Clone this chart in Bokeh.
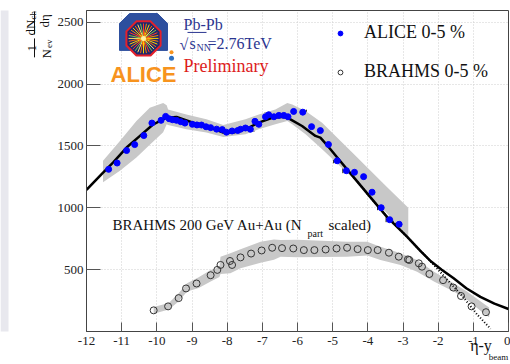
import numpy as np
from bokeh.plotting import figure
from bokeh.layouts import row
from bokeh.models import (ColumnDataSource, Label, Legend, LegendItem, Whisker,
                          TeeHead, Range1d, FixedTicker, LinearAxis)
from bokeh.embed import file_html
from bokeh.resources import INLINE

# ---------------- data ----------------
alice_eta = [-11.37, -11.13, -10.86, -10.63, -10.37, -10.14, -9.88, -9.75, -9.65, -9.555,
             -9.44, -9.32, -9.20, -8.99, -8.86, -8.73, -8.60, -8.47, -8.30, -8.14, -8.02,
             -7.86, -7.70, -7.62, -7.48, -7.34, -7.21, -7.10, -6.91, -6.82, -6.67, -6.53,
             -6.39, -6.27, -6.11, -5.85, -5.60, -5.35, -5.12, -4.87, -4.61, -4.38, -4.12,
             -3.88, -3.62, -3.38, -3.11]
alice_dn = [1311, 1362, 1463, 1511, 1584, 1685, 1707, 1739, 1720, 1712,
            1707, 1696, 1685, 1675, 1670, 1669, 1655, 1648, 1636, 1632, 1611,
            1621, 1625, 1635, 1645, 1635, 1699, 1675, 1736, 1752, 1736, 1747,
            1747, 1736, 1779, 1773, 1656, 1624, 1512, 1380, 1300, 1287, 1252,
            1126, 1001, 904, 867]
alice_xerr = [0.1] * len(alice_eta)

brahms_eta = [-10.09, -9.68, -9.38, -9.17, -8.87, -8.47, -8.28, -8.19, -7.92, -7.86, -7.62,
              -7.32, -7.02, -6.72, -6.44, -6.12, -5.82, -5.52, -5.20, -4.89, -4.59, -4.29,
              -4.00, -3.72, -3.40, -3.12, -2.86, -2.82, -2.55, -2.46, -2.25, -1.86, -1.57,
              -1.35, -1.05, -0.64]
brahms_dn = [171, 203, 270, 348, 388, 455, 498, 538, 570, 538, 599,
             630, 655, 677, 674, 671, 658, 658, 663, 671, 677, 666,
             658, 658, 637, 605, 583, 578, 551, 524, 465, 415, 355,
             287, 203, 156]

fit_eta = [-12.0, -11.57, -11.24, -10.86, -10.48, -10.10, -9.73, -9.44, -8.97, -8.49,
           -8.11, -7.83, -7.48, -7.10, -6.72, -6.39, -6.20, -5.87, -5.49, -5.35, -5.11,
           -4.87, -4.40, -3.93, -3.45, -2.88, -2.50, -2.20, -1.90, -1.56, -1.20, -0.80,
           -0.40, 0.0]
fit_dn = [1145, 1273, 1367, 1487, 1581, 1675, 1728, 1734, 1688, 1648,
          1608, 1608, 1635, 1688, 1728, 1736, 1715, 1661, 1581, 1567, 1490,
          1407, 1246, 1086, 925, 765, 650, 565, 500, 430, 350, 280,
          225, 182]

brahms_fit_eta = [-4.40, -3.93, -3.45, -2.88, -2.22, -1.74, -1.27, -0.89, -0.51]
brahms_fit_dn = [1246, 1086, 925, 765, 567, 419, 272, 137, 22]

alice_band_eta = [-11.53, -11.05, -10.58, -10.20, -9.82, -9.72, -9.68, -9.16, -8.59, -8.11,
                  -7.48, -7.10, -6.63, -6.29, -6.15, -5.77, -5.30, -4.40, -3.45, -2.85]
alice_band_lo = [1206, 1300, 1407, 1510, 1610, 1675, 1670, 1635, 1608, 1572,
                 1595, 1635, 1675, 1701, 1675, 1595, 1474, 1233, 953, 760]
alice_band_hi = [1380, 1541, 1701, 1808, 1848, 1830, 1795, 1755, 1715, 1670,
                 1715, 1755, 1795, 1848, 1835, 1782, 1688, 1434, 1166, 1000]

brahms_band_eta = [-10.09, -9.66, -9.38, -9.14, -8.81, -8.47, -8.22, -8.19, -7.91, -7.62,
                   -7.05, -6.67, -6.48, -6.01, -4.59, -4.02, -3.64, -3.07, -2.60, -2.12,
                   -1.56, -1.18, -0.70, -0.55]
brahms_band_lo = [144, 177, 243, 323, 351, 404, 440, 465, 471, 511,
                  555, 580, 604, 600, 604, 615, 578, 538, 484, 404,
                  323, 257, 145, 115]
brahms_band_hi = [198, 230, 310, 391, 439, 498, 520, 604, 632, 665,
                  725, 744, 740, 742, 725, 725, 685, 632, 578, 484,
                  391, 323, 225, 195]

x_ticks = list(range(-12, 1))
y_ticks = [500, 1000, 1500, 2000, 2500]

# ---------------- layout geometry (page pixels) ----------------
LW = 53                      # width of the left strip figure (y-axis title)
MW, MH = 510 - LW, 364       # main figure
FL, FR, FT, FB = 86 - LW, 2, 10, 32
X0, X1, Y0, Y1 = -12, 0, 0, 2595
PX0, PY1 = LW + FL, MH - FB  # page position of frame left / bottom
FW, FH = MW - FL - FR, MH - FT - FB


def xd(px):
    return X0 + (px - PX0) * (X1 - X0) / FW


def yd(py):
    return Y0 + (PY1 - py) * (Y1 - Y0) / FH


p = figure(width=MW, height=MH, x_range=Range1d(X0, X1), y_range=Range1d(Y0, Y1),
           output_backend="svg", toolbar_location=None,
           min_border_left=FL, min_border_right=FR, min_border_top=FT, min_border_bottom=FB)
p.background_fill_color = "white"
p.border_fill_color = "white"
p.outline_line_color = "#444444"
p.outline_line_width = 1

xa, ya = p.xaxis[0], p.yaxis[0]
for ax, tk, tin in ((xa, x_ticks, 9), (ya, y_ticks, 14)):
    ax.ticker = FixedTicker(ticks=tk)
    ax.major_tick_in = tin
    ax.major_tick_out = 0
    ax.minor_tick_line_color = None
    ax.axis_line_color = "#444444"
    ax.major_tick_line_color = "#555555"
    ax.major_label_text_font = "Liberation Serif"
    ax.major_label_text_font_size = "13px"
    ax.major_label_text_color = "#222222"
xa.major_label_overrides = {t: str(t) for t in x_ticks}
xa.major_label_standoff = 5
ya.major_label_standoff = 3

# x-axis title "η-y" + subscript "beam": single-label bare axes stacked below the x axis
ETA_X = round(xd(480.5), 3)
BEAM_X = round(xd(498.0), 3)


def title_axis(pos, text, size, standoff):
    return LinearAxis(ticker=FixedTicker(ticks=[pos]), major_label_overrides={pos: text},
                      axis_line_color=None, major_tick_line_color=None,
                      minor_tick_line_color=None, major_tick_in=0, major_tick_out=0,
                      major_label_standoff=standoff, major_label_text_font="Liberation Serif",
                      major_label_text_font_size=f"{size}px", major_label_text_color="#111111")


p.add_layout(title_axis(ETA_X, "\u03b7-y", 16, -11), "below")
p.add_layout(title_axis(BEAM_X, "beam", 9, -5), "below")

p.xgrid.ticker = FixedTicker(ticks=x_ticks)
p.ygrid.ticker = FixedTicker(ticks=y_ticks)
for g in (p.xgrid, p.ygrid):
    g.grid_line_color = "#cfcfcf"
    g.grid_line_dash = "1 2"
    g.grid_line_width = 1

# bands
p.varea(x=alice_band_eta, y1=alice_band_lo, y2=alice_band_hi, fill_color="#c8c8c8")
p.varea(x=brahms_band_eta, y1=brahms_band_lo, y2=brahms_band_hi, fill_color="#c8c8c8")

# curves
p.line(fit_eta, fit_dn, line_color="black", line_width=2.5, line_join="round")
p.line(brahms_fit_eta, brahms_fit_dn, line_color="black", line_width=2, line_dash="1 2")

# BRAHMS points
r_brahms = p.scatter(brahms_eta, brahms_dn, marker="circle", size=7, fill_alpha=0,
                     line_color="#333333", line_width=1)

# ALICE points with horizontal errors
src = ColumnDataSource(dict(x=alice_eta, y=alice_dn,
                            lo=[a - e for a, e in zip(alice_eta, alice_xerr)],
                            hi=[a + e for a, e in zip(alice_eta, alice_xerr)]))
p.add_layout(Whisker(source=src, base="y", lower="lo", upper="hi", dimension="width",
                     line_color="black", line_width=1,
                     upper_head=TeeHead(size=5, line_color="black", line_width=1),
                     lower_head=TeeHead(size=5, line_color="black", line_width=1)))
r_alice = p.scatter("x", "y", source=src, marker="circle", size=6, fill_color="#0000ff",
                    line_color="#0000ff")

legend = Legend(items=[LegendItem(label="ALICE 0-5 %", renderers=[r_alice]),
                       LegendItem(label="BRAHMS 0-5 %", renderers=[r_brahms])],
                location=(248, 249), glyph_width=12, glyph_height=12, label_standoff=18,
                spacing=18, padding=0, margin=0, border_line_color=None,
                background_fill_alpha=0, label_text_font="Liberation Serif",
                label_text_font_size="18px", label_text_color="#111111")
p.add_layout(legend, "center")


# ---------------- helpers for page-positioned decorations ----------------
def lab(fig, ox, oy, px, py, text, size, color="#111111", font="Liberation Serif",
        style="normal", angle=0.0, align="left", baseline="alphabetic"):
    fig.add_layout(Label(x=px - ox, y=oy - py, x_units="screen", y_units="screen",
                         text=text, text_font=font, text_font_size=f"{size}px",
                         text_color=color, text_font_style=style, angle=angle,
                         text_align=align, text_baseline=baseline))


def mlab(px, py, text, size, **kw):
    lab(p, PX0, PY1, px, py, text, size, **kw)


# ---------------- ALICE logo ----------------
cx, cy, rr = 143, 38, 18.5
outer = [(119, 50), (119, 23), (129, 13), (157, 13), (167, 23), (167, 50)]
p.patch([xd(a) for a, b in outer], [yd(b) for a, b in outer], fill_color="#2d4f9e",
        line_color="#2d4f9e")
ang = np.deg2rad(22.5 + 45 * np.arange(8))
p.patch([xd(cx + rr * np.cos(a)) for a in ang], [yd(cy - rr * np.sin(a)) for a in ang],
        fill_color="#1c2a6e", line_color="#e4202a", line_width=2)
ray_ang = np.deg2rad(np.arange(0, 360, 11.25))
ray_cols = ["#ffd200", "#ff8a00", "#ff3a2a", "#86c440", "#ffe766", "#ff6a00"]
p.segment(x0=[xd(cx)] * len(ray_ang), y0=[yd(cy)] * len(ray_ang),
          x1=[xd(cx + 15 * np.cos(a)) for a in ray_ang],
          y1=[yd(cy - 15 * np.sin(a)) for a in ray_ang],
          line_color=[ray_cols[i % len(ray_cols)] for i in range(len(ray_ang))], line_width=1)
p.scatter([xd(cx)], [yd(cy)], marker="circle", size=5, fill_color="#fff2a0", line_color=None)
p.scatter([xd(171)], [yd(52)], marker="circle", size=4, fill_color="#f7931e", line_color=None)
p.scatter([xd(171)], [yd(58)], marker="circle", size=5, fill_color="#2d6fc0", line_color=None)
mlab(110, 75, "ALICE", 22, color="#f7931e", font="Liberation Sans", style="bold")

mlab(183, 25, "Pb-Pb", 16, color="#2b3590")
mlab(179, 45, "\u221a", 16, color="#2b3590")
p.segment(x0=[xd(187)], y0=[yd(32)], x1=[xd(206)], y1=[yd(32)], line_color="#2b3590",
          line_width=1)
mlab(189, 44, "s", 16, color="#2b3590")
mlab(196, 48, "NN", 10, color="#2b3590")
mlab(207, 44, "=2.76TeV", 16, color="#2b3590")
mlab(183, 66, "Preliminary", 18, color="#dd1c1c")

mlab(112, 225, "BRAHMS 200 GeV Au+Au (N", 15)
mlab(307, 234, "part", 10)
mlab(328, 225, "scaled)", 15)

# ---------------- left strip: y-axis title ----------------
# In a row, Bokeh lines this figure's frame up with the main frame (page y 10..332),
# so its ranges are page pixels measured from that frame.
left = figure(width=LW, height=MH, x_range=Range1d(0, LW), y_range=Range1d(0, FH),
              output_backend="svg", toolbar_location=None, min_border=0,
              min_border_top=FT, min_border_bottom=FB,
              x_axis_type=None, y_axis_type=None)
left.grid.visible = False
left.outline_line_color = None
left.background_fill_color = "white"
left.border_fill_color = "white"
left.quad(left=[0], right=[8], bottom=[-50], top=[FH + 50], fill_color="#e8e8ee",
          line_color=None)
HALF_PI = np.pi / 2


def llab(px, py, text, size, **kw):
    lab(left, 0, PY1, px, py, text, size, **kw)


llab(30, 36, "dN", 13, angle=HALF_PI)
llab(32.5, 20, "ch", 9, angle=HALF_PI)
llab(44, 28, "d\u03b7", 13, angle=HALF_PI)
llab(31, 52, "1", 13, angle=HALF_PI)
llab(45.5, 59, "N", 13, angle=HALF_PI)
llab(48, 48.5, "ev", 9, angle=HALF_PI)
left.segment(x0=[34, 34], x1=[34, 34], y0=[PY1 - 11, PY1 - 38], y1=[PY1 - 34, PY1 - 57],
             line_color="#111111", line_width=1)

layout = row(left, p)
open("out.html", "w").write(file_html(layout, INLINE))
